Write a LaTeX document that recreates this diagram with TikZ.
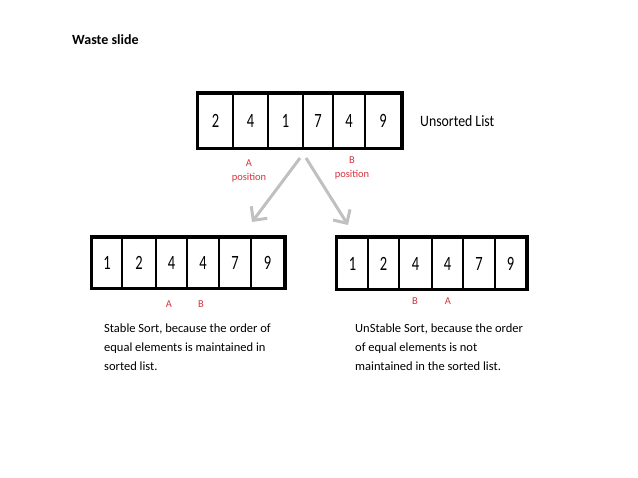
\documentclass[tikz,border=0pt]{standalone}
\usepackage{fontspec}
\setmainfont{Carlito}
\usetikzlibrary{arrows.meta}
\definecolor{lblred}{RGB}{215,50,60}
\definecolor{arrgray}{RGB}{192,192,192}
\tikzset{
  cell/.style={draw=black, line width=2pt, inner sep=0pt, minimum height=#1, font=\fontsize{14.5}{16}\selectfont},
  frame/.style={draw=black, line width=3pt},
  lbl/.style={text=lblred, font=\fontsize{10.5}{12}\selectfont, inner sep=0pt, align=center},
  body/.style={font=\fontsize{12.5}{19}\selectfont, align=left, anchor=north west, inner sep=0pt},
  grayarrow/.style={draw=arrgray, line width=3pt, -{Straight Barb[length=10pt,width=20pt,line width=3pt]}}
}
\newcommand{\mkcell}[6]{% name, x0, x1, ymid, height, text
  \node[cell=#5, minimum width={#3pt-#2pt}] (#1) at ({(#2+#3)/2}, #4) {\scalebox{1}[1.4]{#6}};}
\begin{document}
\begin{tikzpicture}[x=1pt,y=-1pt]
\useasboundingbox (0,0) rectangle (638,478);
\node[anchor=west, font=\bfseries\fontsize{14}{16}\selectfont, inner sep=0pt] (title) at (72,40) {Waste slide};

% top list
\mkcell{t1}{198}{233}{121}{54}{2}
\mkcell{t2}{233}{268}{121}{54}{4}
\mkcell{t3}{268}{303}{121}{54}{1}
\mkcell{t4}{303}{333}{121}{54}{7}
\mkcell{t5}{333}{365}{121}{54}{4}
\mkcell{t6}{365}{401}{121}{54}{9}
\draw[frame] (t1.north west) rectangle (t6.south east);
\node[anchor=base west, font=\fontsize{13.8}{16}\selectfont, inner sep=0pt] (unsorted) at (420,127) {\scalebox{1}[1.15]{Unsorted List}};

\node[lbl] (apos) at (249,170.5) {A\\[2pt]position};
\node[lbl] (bpos) at (352,168) {B\\[2pt]position};

\coordinate (sl) at (300,158);
\coordinate (sr) at (306,158);

% left bottom list
\mkcell{l1}{92}{122}{263}{50}{1}
\mkcell{l2}{122}{156}{263}{50}{2}
\mkcell{l3}{156}{187}{263}{50}{4}
\mkcell{l4}{187}{219}{263}{50}{4}
\mkcell{l5}{219}{251}{263}{50}{7}
\mkcell{l6}{251}{284}{263}{50}{9}
\draw[frame] (l1.north west) rectangle (l6.south east);
\node[lbl] (la) at (169,304) {A};
\node[lbl] (lb) at (201,304) {B};
\node[body] (ltext) at (104,324) {Stable Sort, because the order of\\equal elements is maintained in\\sorted list.};

% right bottom list
\mkcell{r1}{337}{368}{263.5}{51}{1}
\mkcell{r2}{368}{399}{263.5}{51}{2}
\mkcell{r3}{399}{432}{263.5}{51}{4}
\mkcell{r4}{432}{463}{263.5}{51}{4}
\mkcell{r5}{463}{495}{263.5}{51}{7}
\mkcell{r6}{495}{526}{263.5}{51}{9}
\draw[frame] (r1.north west) rectangle (r6.south east);
\node[lbl] (rb) at (415,301) {B};
\node[lbl] (ra) at (448,301) {A};
\node[body] (rtext) at (355,324) {UnStable Sort, because the order\\of equal elements is not\\maintained in the sorted list.};

\coordinate (el) at (252,222);
\coordinate (er) at (348,225);
\draw[grayarrow] (sl) -- (el);
\draw[grayarrow] (sr) -- (er);
\end{tikzpicture}
\end{document}
